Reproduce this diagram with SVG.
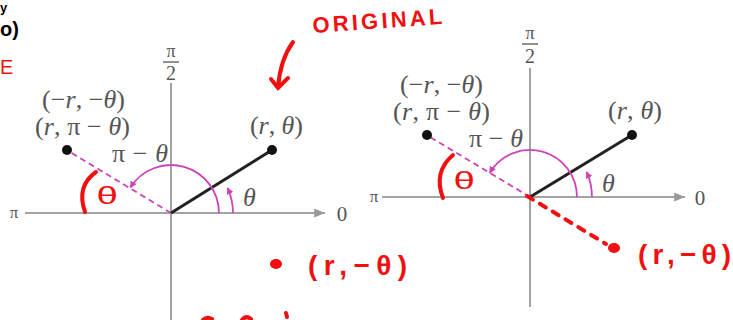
<svg xmlns="http://www.w3.org/2000/svg" width="733" height="320" viewBox="0 0 733 320">
<style>
.axis{stroke:#a3a3a3;stroke-width:2;fill:none}
.ray{stroke:#222;stroke-width:3;fill:none}
.mag{stroke:#cc44b8;stroke-width:1.8;fill:none}
.magd{stroke:#cc44b8;stroke-width:1.8;fill:none;stroke-dasharray:6 4}
.lbl{font-family:"Liberation Serif",serif;fill:#555;font-size:26px}
.ax{font-family:"Liberation Serif",serif;fill:#555}
.it{font-style:italic}
.red{stroke:#f01010;stroke-width:4;fill:none;stroke-linecap:round}
.redt{font-family:"Liberation Sans",sans-serif;fill:#f01010}
</style>
<defs>
<marker id="ah" viewBox="0 0 10 10" refX="9" refY="5" markerWidth="7" markerHeight="7" orient="auto" markerUnits="userSpaceOnUse">
<path d="M0,0 L10,5 L0,10 z" fill="#cc44b8"/>
</marker>
<marker id="ax" viewBox="0 0 12 10" refX="12" refY="5" markerWidth="13" markerHeight="9" orient="auto" markerUnits="userSpaceOnUse">
<path d="M0,0 L12,5 L0,10 z" fill="#999"/>
</marker>
</defs>

<g id="corner-notes">
<text x="0" y="12" font-family="Liberation Sans,sans-serif" font-weight="bold" font-size="13" fill="#000">y</text>
<text x="0" y="36" font-family="Liberation Sans,sans-serif" font-weight="bold" font-size="20" fill="#000">o)</text>
<text x="0" y="74" class="redt" font-size="20">E</text>
</g>

<g id="left-diagram">
<g id="left-axes">
<line class="axis" x1="25" y1="213" x2="325" y2="213" marker-end="url(#ax)"/>
<line class="axis" x1="171" y1="83" x2="171" y2="320"/>
<text class="ax" x="14" y="218" font-size="17" text-anchor="middle">π</text>
<text class="ax" x="342" y="221" font-size="21" text-anchor="middle">0</text>
<text class="ax" x="171" y="57" font-size="18" text-anchor="middle">π</text>
<line x1="163" y1="62" x2="179" y2="62" stroke="#555" stroke-width="1.3"/>
<text class="ax" x="171" y="80" font-size="20" text-anchor="middle">2</text>
</g>
<g id="left-connectors">
<line class="magd" x1="171" y1="213" x2="70" y2="152"/>
<line class="ray" x1="171" y1="213" x2="272" y2="150"/>
<path class="mag" d="M219,213 A48,48 0 0 0 130.3,187.6" marker-end="url(#ah)"/>
<path class="mag" d="M233,213 A62,62 0 0 0 227.6,187.8" marker-end="url(#ah)"/>
</g>
<g id="left-point-rtheta">
<circle cx="272" cy="150" r="5" fill="#111"/>
<text class="lbl" x="250" y="134" textLength="53" lengthAdjust="spacing">(<tspan class="it">r</tspan>, <tspan class="it">θ</tspan>)</text>
</g>
<g id="left-point-neg">
<circle cx="67" cy="150" r="5" fill="#111"/>
<text class="lbl" x="42" y="108" textLength="83" lengthAdjust="spacing">(−<tspan class="it">r</tspan>, −<tspan class="it">θ</tspan>)</text>
<text class="lbl" x="35" y="135" textLength="95" lengthAdjust="spacing">(<tspan class="it">r</tspan>, π − <tspan class="it">θ</tspan>)</text>
</g>
<text class="lbl" x="112" y="162" textLength="56" lengthAdjust="spacing">π − <tspan class="it">θ</tspan></text>
<text class="lbl it" x="243" y="206">θ</text>
<g id="left-red">
<path class="red" d="M96,172 Q76,186 85,212"/>
<text class="redt" x="0" y="0" font-size="24" transform="translate(96.5,203.5) scale(1.6,1)">θ</text>
<ellipse cx="276" cy="264" rx="6" ry="5" fill="#f01010"/>
<text class="redt" x="308" y="275" font-size="28" font-weight="bold" textLength="99" lengthAdjust="spacing">(r,−θ)</text>
<path class="red" d="M203,320 Q207,316 212,319 M242,320 Q246,315 251,319 M286,313 L287,317" stroke-width="3"/>
</g>
</g>

<g id="annotation-original">
<text class="redt" x="313" y="33" font-size="22" font-weight="bold" textLength="130" lengthAdjust="spacing" transform="rotate(-4 313 33)">ORIGINAL</text>
<path class="red" d="M293,42 Q280,60 278,88 M271,79 L278,88 L288,78"/>
</g>

<g id="right-diagram">
<g id="right-axes">
<line class="axis" x1="382" y1="197" x2="685" y2="197" marker-end="url(#ax)"/>
<line class="axis" x1="530" y1="68" x2="530" y2="307"/>
<text class="ax" x="374" y="202" font-size="17" text-anchor="middle">π</text>
<text class="ax" x="700" y="205" font-size="21" text-anchor="middle">0</text>
<text class="ax" x="530" y="39" font-size="18" text-anchor="middle">π</text>
<line x1="522" y1="44" x2="538" y2="44" stroke="#555" stroke-width="1.3"/>
<text class="ax" x="530" y="63" font-size="20" text-anchor="middle">2</text>
</g>
<g id="right-connectors">
<line class="magd" x1="530" y1="197" x2="430" y2="137"/>
<line class="ray" x1="530" y1="197" x2="632" y2="135"/>
<path class="mag" d="M577,197 A47,47 0 0 0 489.7,172.8" marker-end="url(#ah)"/>
<path class="mag" d="M592,197 A62,62 0 0 0 586.6,171.8" marker-end="url(#ah)"/>
</g>
<g id="right-point-rtheta">
<circle cx="632" cy="135" r="5" fill="#111"/>
<text class="lbl" x="608" y="119" textLength="54" lengthAdjust="spacing">(<tspan class="it">r</tspan>, <tspan class="it">θ</tspan>)</text>
</g>
<g id="right-point-neg">
<circle cx="427" cy="135" r="5" fill="#111"/>
<text class="lbl" x="400" y="93" textLength="83" lengthAdjust="spacing">(−<tspan class="it">r</tspan>, −<tspan class="it">θ</tspan>)</text>
<text class="lbl" x="393" y="120" textLength="97" lengthAdjust="spacing">(<tspan class="it">r</tspan>, π − <tspan class="it">θ</tspan>)</text>
</g>
<text class="lbl" x="469" y="147" textLength="54" lengthAdjust="spacing">π − <tspan class="it">θ</tspan></text>
<text class="lbl it" x="602" y="192">θ</text>
<g id="right-red">
<path class="red" d="M453,155 Q433,172 443,198"/>
<text class="redt" x="0" y="0" font-size="24" transform="translate(453.5,188.5) scale(1.6,1)">θ</text>
<line class="red" x1="527" y1="196" x2="606" y2="244" stroke-dasharray="7 8" stroke-width="3"/>
<ellipse cx="614" cy="248" rx="6" ry="5" fill="#f01010"/>
<text class="redt" x="638" y="264" font-size="28" font-weight="bold" textLength="93" lengthAdjust="spacing">(r,−θ)</text>
</g>
</g>
</svg>
